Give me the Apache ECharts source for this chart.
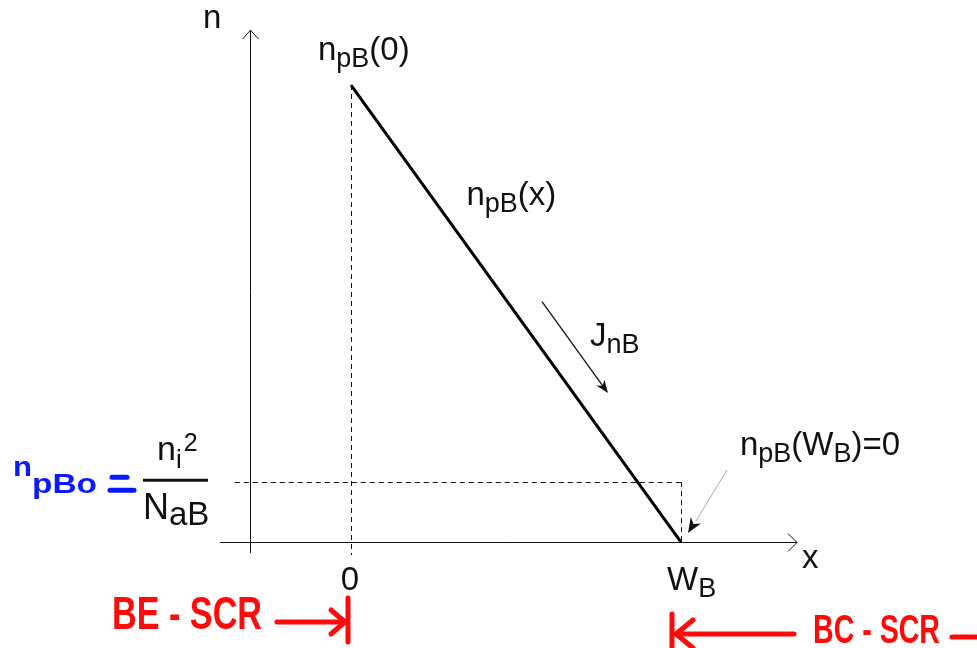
<!DOCTYPE html>
<html>
<head>
<meta charset="utf-8">
<script src="https://cdn.jsdelivr.net/npm/echarts@6/dist/echarts.min.js"></script>
<style>
  html, body { margin: 0; padding: 0; background: #ffffff; }
  #chart { width: 977px; height: 648px; }
</style>
</head>
<body>
<div id="chart"></div>
<script>
// Excess-electron profile across the neutral base of an npn transistor.
// x runs from the BE depletion edge (0) to the BC depletion edge (W_B).
const basePositions = [0, 1];          // 0 and W_B (base width normalised to 1)
const positionLabels = ['0', 'W_B'];
const electronDensity = [1, 0];        // n_pB(0) normalised to 1, n_pB(W_B) = 0
const equilibriumDensity = 0.131;      // n_pBo = n_i^2 / N_aB

// Drawing frame of the sketch, in axis units
const frame = {
  nAxisAt: -0.306, nAxisTop: 1.12, nAxisBottom: -0.024,
  xAxisLeft: -0.397, xAxisRight: 1.3515,
  levelStart: -0.352
};

const FAMILY = '"Liberation Sans", Arial, Helvetica, sans-serif';
const INK = '#111111';
const RED = '#ff0a0a';
const BLUE = '#0a1aff';

const measureCtx = document.createElement('canvas').getContext('2d');
function measure(text, size, weight) {
  measureCtx.font = (weight || 'normal') + ' ' + size + 'px ' + FAMILY;
  return measureCtx.measureText(text).width;
}

// A row of text runs placed on a common baseline; each run may be lowered
// (subscript) or raised (superscript) and sized on its own.
function formula(runs, x, baseline, align, fill) {
  const widths = runs.map(r => measure(r.t, r.size, r.weight) + (r.gap || 0));
  const total = widths.reduce((a, b) => a + b, 0);
  let cx = align === 'center' ? x - total / 2 : x;
  return runs.map((r, i) => {
    const el = {
      type: 'text',
      x: cx + (r.gap || 0),
      y: baseline + (r.dy || 0) - 0.35 * r.size,
      style: {
        text: r.t, fontSize: r.size, fontFamily: FAMILY,
        fontWeight: r.weight || 'normal', fill: r.fill || fill || INK,
        align: 'left', verticalAlign: 'middle'
      }
    };
    cx += widths[i];
    return el;
  });
}

const M = 33, S = 27, SUB = 7;
const main = t => ({ t: t, size: M });
const sub = t => ({ t: t, size: S, dy: SUB });

function subscripted(label) {
  // 'W_B' -> W with subscript B
  const p = label.split('_');
  return p.length > 1 ? [main(p[0]), sub(p[1])] : [main(p[0])];
}

function line(x1, y1, x2, y2, style) {
  return { type: 'line', shape: { x1: x1, y1: y1, x2: x2, y2: y2 }, style: style };
}

function dartHead(tip, from, len, half, fill) {
  const dx = tip[0] - from[0], dy = tip[1] - from[1];
  const L = Math.hypot(dx, dy), ux = dx / L, uy = dy / L;
  const nx = -uy, ny = ux;
  const bx = tip[0] - ux * len, by = tip[1] - uy * len;
  const notch = [tip[0] - ux * len * 0.7, tip[1] - uy * len * 0.7];
  return {
    type: 'polygon',
    shape: { points: [tip, [bx + nx * half, by + ny * half], notch, [bx - nx * half, by - ny * half]] },
    style: { fill: fill }
  };
}

const crisp = v => Math.round(v) + 0.5;

function renderAxes(params, api) {
  const top = api.coord([frame.nAxisAt, frame.nAxisTop]);
  const bot = api.coord([frame.nAxisAt, frame.nAxisBottom]);
  const left = api.coord([frame.xAxisLeft, 0]);
  const right = api.coord([frame.xAxisRight, 0]);
  const s = { stroke: INK, lineWidth: 1, fill: null };
  const ax = crisp(top[0]), ay = crisp(left[1]);
  return {
    type: 'group',
    children: [
      line(ax, top[1], ax, bot[1], s),
      { type: 'polyline', shape: { points: [[ax - 8, top[1] + 9], [ax, top[1]], [ax + 8, top[1] + 9]] }, style: s },
      line(left[0], ay, right[0], ay, s),
      { type: 'polyline', shape: { points: [[right[0] - 9, ay - 9], [right[0], ay], [right[0] - 9, ay + 9]] }, style: s }
    ]
  };
}

function renderGuides(params, api) {
  const peak = api.coord([basePositions[0], electronDensity[0]]);
  const zero = api.coord([basePositions[0], 0]);
  const wb = api.coord([basePositions[1], 0]);
  const lvlL = api.coord([frame.levelStart, equilibriumDensity]);
  const lvlR = api.coord([basePositions[1], equilibriumDensity]);
  const s = { stroke: INK, lineWidth: 1, lineDash: [5, 4], fill: null };
  return {
    type: 'group',
    children: [
      line(crisp(peak[0]), peak[1], crisp(peak[0]), zero[1] + 13, s),
      line(lvlL[0], crisp(lvlL[1]), lvlR[0], crisp(lvlR[1]), s),
      line(crisp(lvlR[0]), lvlR[1], crisp(wb[0]), wb[1], s)
    ]
  };
}

function renderArrows(params, api) {
  const p0 = api.coord([basePositions[0], electronDensity[0]]);
  const p1 = api.coord([basePositions[1], electronDensity[1]]);
  const dx = p1[0] - p0[0], dy = p1[1] - p0[1];
  const L = Math.hypot(dx, dy), ux = dx / L, uy = dy / L;
  const nx = uy, ny = -ux;                 // normal towards upper right
  const at = (t, off) => [p0[0] + dx * t + nx * off, p0[1] + dy * t + ny * off];
  const a = at(0.51, 28), b = at(0.71, 28);
  const wb = api.coord([basePositions[1], 0]);
  const gs = [wb[0] + 46, wb[1] - 72], ge = [wb[0] + 7, wb[1] - 9];
  return {
    type: 'group',
    children: [
      line(a[0], a[1], b[0] - ux * 8, b[1] - uy * 8, { stroke: INK, lineWidth: 1.3 }),
      dartHead(b, a, 13, 5, INK),
      line(gs[0], gs[1], ge[0] + 8, ge[1] - 12, { stroke: '#a8a8a8', lineWidth: 1 }),
      dartHead(ge, gs, 15, 6, INK)
    ]
  };
}

function renderLabels(params, api) {
  const top = api.coord([frame.nAxisAt, frame.nAxisTop]);
  const right = api.coord([frame.xAxisRight, 0]);
  const peak = api.coord([basePositions[0], electronDensity[0]]);
  const end = api.coord([basePositions[1], electronDensity[1]]);
  const along = t => [peak[0] + (end[0] - peak[0]) * t, peak[1] + (end[1] - peak[1]) * t];
  const lvl = api.coord([frame.nAxisAt, equilibriumDensity]);
  const t0 = api.coord([basePositions[0], 0]);
  const t1 = api.coord([basePositions[1], 0]);
  const mid = along(0.35), flux = along(0.6);
  let els = [];
  els = els.concat(formula([main('n')], top[0] - 47, top[1]));
  els = els.concat(formula([main('x')], right[0] + 5, right[1] + 28));
  els = els.concat(formula([main('n'), sub('pB'), main('(0)')], peak[0] - 33, peak[1] - 23));
  els = els.concat(formula([main('n'), sub('pB'), main('(x)')], mid[0], mid[1] - 38));
  els = els.concat(formula([main('J'), sub('nB')], flux[0] + 41, flux[1] - 11));
  els = els.concat(formula([main('n'), sub('pB'), main('(W'), sub('B'), main(')=0')], end[0] + 59, end[1] - 85));
  // tick labels under the x axis
  els = els.concat(formula(subscripted(positionLabels[0]), t0[0] - 1, t0[1] + 50, 'center'));
  els = els.concat(formula(subscripted(positionLabels[1]), t1[0] - 14, t1[1] + 50));
  // n_i^2 / N_aB at the equilibrium level
  const fx = lvl[0] - 107, fy = lvl[1];
  els.push({ type: 'rect', shape: { x: fx, y: fy - 3.5, width: 65, height: 3 }, style: { fill: INK } });
  els = els.concat(formula([
    { t: 'n', size: 34 }, { t: 'i', size: 26, dy: 8 }, { t: '2', size: 25, dy: -9, gap: 2 }
  ], fx + 14, fy - 20));
  els = els.concat(formula([
    { t: 'N', size: 36 }, { t: 'aB', size: 33, dy: 5 }
  ], fx, fy + 40));
  return { type: 'group', children: els };
}

// Hand-written notes: n_pBo and the space-charge regions on either side of the base
function fitted(text, x, cy, size, width, stretchY, fill) {
  const w = measure(text, size, 'bold');
  return {
    type: 'text', x: x, y: cy, scaleX: width / w, scaleY: stretchY,
    style: { text: text, fontSize: size, fontFamily: FAMILY, fontWeight: 'bold', fill: fill, align: 'left', verticalAlign: 'middle' }
  };
}

function renderNotes(params, api) {
  const z0 = api.coord([basePositions[0], 0]);
  const zW = api.coord([basePositions[1], 0]);
  const lvl = api.coord([frame.nAxisAt, equilibriumDensity]);
  const r = { stroke: RED, lineWidth: 5, lineCap: 'round', lineJoin: 'round', fill: null };
  const b = { stroke: BLUE, lineWidth: 5, lineCap: 'round', fill: null };
  return {
    type: 'group',
    children: [
      // BE space-charge region
      fitted('BE - SCR', z0[0] - 239, z0[1] + 74, 34, 150, 1.35, RED),
      line(z0[0] - 74, z0[1] + 80, z0[0] - 6, z0[1] + 80, r),
      { type: 'polyline', shape: { points: [[z0[0] - 20, z0[1] + 68], [z0[0] - 6, z0[1] + 80], [z0[0] - 20, z0[1] + 92]] }, style: r },
      line(z0[0] - 3, z0[1] + 56, z0[0] - 3, z0[1] + 100, r),
      // BC space-charge region
      line(zW[0] - 9, zW[1] + 72, zW[0] - 9, zW[1] + 108, r),
      line(zW[0] - 5, zW[1] + 92, zW[0] + 113, zW[1] + 92, r),
      { type: 'polyline', shape: { points: [[zW[0] + 12, zW[1] + 78], [zW[0] - 5, zW[1] + 92], [zW[0] + 12, zW[1] + 106]] }, style: r },
      fitted('BC - SCR', zW[0] + 132, zW[1] + 90, 34, 127, 1.2, RED),
      line(zW[0] + 271, zW[1] + 95, zW[0] + 300, zW[1] + 95, r),
      // n_pBo =
      fitted('n', lvl[0] - 237, lvl[1] - 14, 30, 19, 0.9, BLUE),
      fitted('pBo', lvl[0] - 218, lvl[1] + 3, 28, 65, 1.0, BLUE),
      line(lvl[0] - 138, lvl[1] - 5, lvl[0] - 123, lvl[1] - 5, b),
      line(lvl[0] - 140, lvl[1] + 8, lvl[0] - 116, lvl[1] + 8, b)
    ]
  };
}

const chart = echarts.init(document.getElementById('chart'));
const custom = (name, fn, z) => ({
  name: name, type: 'custom', data: [[0, 0]], renderItem: fn,
  silent: true, clip: false, z: z
});

chart.setOption({
  animation: false,
  backgroundColor: '#ffffff',
  grid: { left: 0, right: 0, top: 0, bottom: 0 },
  xAxis: { type: 'value', min: -1.0636, max: 1.897, show: false },
  yAxis: { type: 'value', min: -0.2319, max: 1.186, show: false },
  series: [
    custom('axes', renderAxes, 1),
    custom('guides', renderGuides, 2),
    {
      name: 'n_pB(x)', type: 'line', z: 3, silent: true, clip: false,
      symbol: 'none',
      data: basePositions.map((x, i) => [x, electronDensity[i]]),
      lineStyle: { color: '#000000', width: 3 }
    },
    custom('arrows', renderArrows, 4),
    custom('labels', renderLabels, 5),
    custom('notes', renderNotes, 6)
  ]
});
</script>
</body>
</html>
